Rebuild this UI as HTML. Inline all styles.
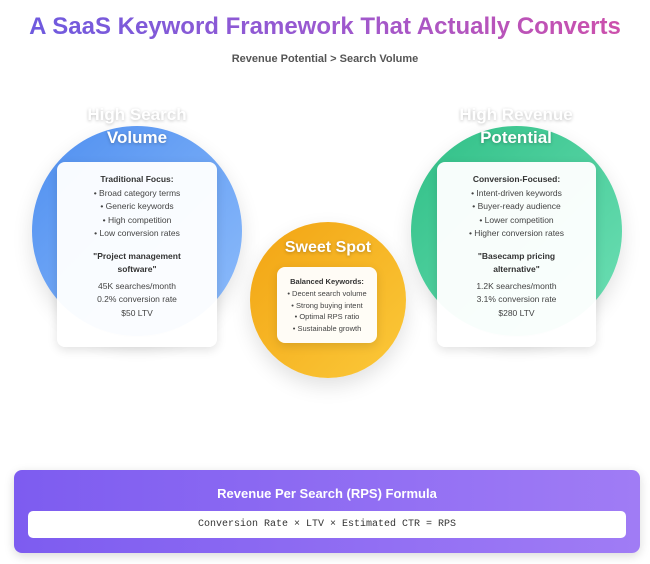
<!DOCTYPE html>
<html><head><style>
*{margin:0;padding:0;box-sizing:border-box}
body{width:650px;height:564px;background:#fff;font-family:"Liberation Sans",sans-serif;position:relative;overflow:hidden}
.title{position:absolute;top:13px;left:0;width:650px;text-align:center;font-size:24px;font-weight:bold;background:linear-gradient(90deg,#6a5ae0,#9b59d0,#d14fa8);-webkit-background-clip:text;color:transparent}
.sub{position:absolute;top:53px;width:650px;text-align:center;font-size:11px;color:#555;font-weight:bold}
.circ{position:absolute;border-radius:50%;box-shadow:0 8px 20px rgba(0,0,0,.12)}
.head{position:absolute;width:200px;text-align:center;color:#fff;font-weight:bold;text-shadow:0 1px 3px rgba(0,0,0,.25)}
.card{position:absolute;background:rgba(255,255,255,.96);border-radius:8px;box-shadow:0 3px 10px rgba(0,0,0,.12);text-align:center;font-size:8.5px;color:#444;line-height:13.5px}
.card b{color:#333}
</style></head><body>
<div class="title">A SaaS Keyword Framework That Actually Converts</div>
<div class="sub">Revenue Potential &gt; Search Volume</div>

<div class="circ" style="left:32px;top:126px;width:210px;height:210px;background:linear-gradient(135deg,#4f8ff0,#8fbdfb)"></div>
<div class="head" style="left:37px;top:103px;font-size:17px;line-height:23px">High Search<br>Volume</div>
<div class="card" style="left:57px;top:162px;width:160px;height:185px;padding-top:11px">
<b>Traditional Focus:</b><br>• Broad category terms<br>• Generic keywords<br>• High competition<br>• Low conversion rates<br>
<div style="margin-top:9px"><b>"Project management<br>software"</b></div>
<div style="margin-top:3px">45K searches/month<br>0.2% conversion rate<br>$50 LTV</div></div>

<div class="circ" style="left:411px;top:126px;width:211px;height:210px;background:linear-gradient(135deg,#2fbf86,#6fe0b6)"></div>
<div class="head" style="left:416px;top:103px;font-size:17px;line-height:23px">High Revenue<br>Potential</div>
<div class="card" style="left:437px;top:162px;width:159px;height:185px;padding-top:11px">
<b>Conversion-Focused:</b><br>• Intent-driven keywords<br>• Buyer-ready audience<br>• Lower competition<br>• Higher conversion rates<br>
<div style="margin-top:9px"><b>"Basecamp pricing<br>alternative"</b></div>
<div style="margin-top:3px">1.2K searches/month<br>3.1% conversion rate<br>$280 LTV</div></div>

<div class="circ" style="left:250px;top:222px;width:156px;height:156px;background:linear-gradient(135deg,#f2a413,#fbc93a)"></div>
<div class="head" style="left:228px;top:239px;font-size:16px">Sweet Spot</div>
<div class="card" style="left:277px;top:267px;width:100px;height:76px;padding-top:9px;font-size:7.5px;line-height:11.8px">
<b>Balanced Keywords:</b><br>• Decent search volume<br>• Strong buying intent<br>• Optimal RPS ratio<br>• Sustainable growth</div>

<div style="position:absolute;left:14px;top:470px;width:626px;height:83px;border-radius:8px;background:linear-gradient(90deg,#7d5cf0,#a07cf5);box-shadow:0 3px 10px rgba(0,0,0,.15)"></div>
<div style="position:absolute;left:14px;top:486px;width:626px;text-align:center;color:#fff;font-weight:bold;font-size:13px">Revenue Per Search (RPS) Formula</div>
<div style="position:absolute;left:28px;top:511px;width:598px;height:27px;background:#fff;border-radius:5px;text-align:center;font-family:'Liberation Mono',monospace;font-size:10px;line-height:27px;color:#333">Conversion Rate × LTV × Estimated CTR = RPS</div>
</body></html>
